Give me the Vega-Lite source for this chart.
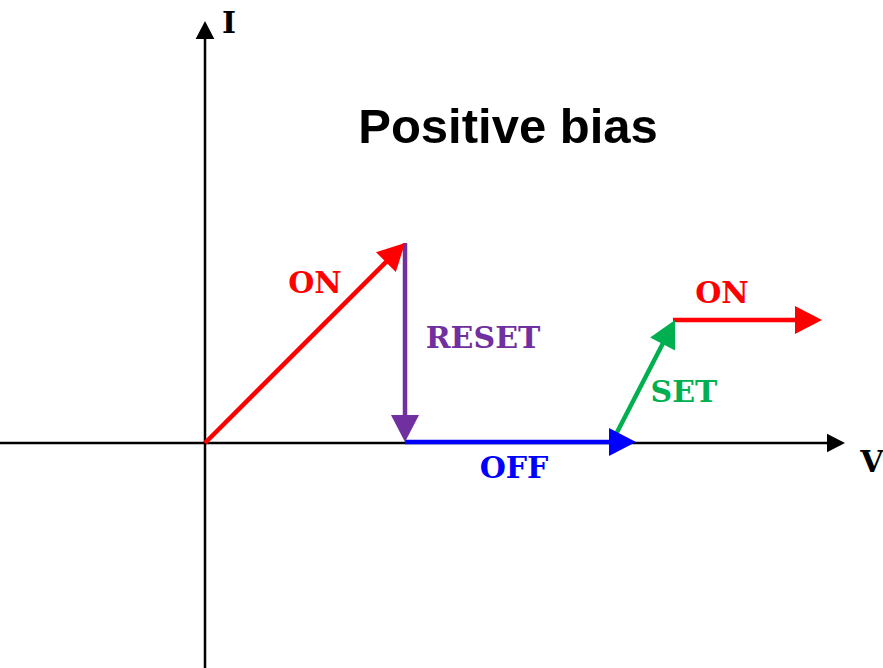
{
  "$schema": "https://vega.github.io/schema/vega-lite/v6.json",
  "width": 883,
  "height": 668,
  "autosize": {"type": "none"},
  "padding": 0,
  "background": "white",
  "config": {"view": {"stroke": null}},
  "datasets": {
    "segments": [
      {"state": "axis", "x": -20.5, "y": 0, "x2": 64.0, "y2": 0},
      {"state": "axis", "x": 0, "y": -22.5, "x2": 0, "y2": 42.2},
      {"state": "ON", "x": 0, "y": 0, "x2": 20.0, "y2": 20.0},
      {"state": "RESET", "x": 20.0, "y": 20.0, "x2": 20.0, "y2": 0.1},
      {"state": "OFF", "x": 20.0, "y": 0.1, "x2": 43.1, "y2": 0.1},
      {"state": "SET", "x": 40.7, "y": 0.1, "x2": 47.0, "y2": 12.3},
      {"state": "ON", "x": 46.8, "y": 12.3, "x2": 61.7, "y2": 12.3}
    ],
    "labels": [
      {"state": "axis", "text": "I", "x": 2.4, "y": 41.0},
      {"state": "axis", "text": "V", "x": 66.7, "y": -2.9},
      {"state": "ON", "text": "ON", "x": 11.0, "y": 15.0},
      {"state": "RESET", "text": "RESET", "x": 27.8, "y": 9.5},
      {"state": "OFF", "text": "OFF", "x": 30.9, "y": -3.5},
      {"state": "SET", "text": "SET", "x": 47.9, "y": 4.1},
      {"state": "ON", "text": "ON", "x": 51.7, "y": 14.0}
    ],
    "title": [
      {"state": "axis", "text": "Positive bias", "x": 30.3, "y": 30.0}
    ]
  },
  "encoding": {
    "color": {
      "field": "state",
      "type": "nominal",
      "legend": null,
      "scale": {
        "domain": ["axis", "ON", "RESET", "OFF", "SET"],
        "range": ["#000000", "#FF0000", "#7030A0", "#0000FF", "#00B050"]
      }
    }
  },
  "layer": [
    {
      "data": {"name": "segments"},
      "transform": [
        {"calculate": "datum.x2 - datum.x", "as": "dx"},
        {"calculate": "datum.y2 - datum.y", "as": "dy"},
        {"calculate": "sqrt(datum.dx * datum.dx + datum.dy * datum.dy)", "as": "len"},
        {"calculate": "atan2(-datum.dy, datum.dx) * 180 / PI", "as": "angle"},
        {"calculate": "datum.state === 'axis' ? 1.0 : 1.5", "as": "trim"},
        {"calculate": "datum.x2 - datum.trim * datum.dx / datum.len", "as": "xe"},
        {"calculate": "datum.y2 - datum.trim * datum.dy / datum.len", "as": "ye"}
      ],
      "layer": [
        {
          "transform": [{"filter": "datum.state === 'axis'"}],
          "mark": {"type": "rule", "strokeWidth": 2.5, "strokeCap": "butt"},
          "encoding": {
            "x": {"field": "x", "type": "quantitative", "scale": {"domain": [-20.5, 67.8], "nice": false, "zero": false}, "axis": null},
            "y": {"field": "y", "type": "quantitative", "scale": {"domain": [-22.5, 44.3], "nice": false, "zero": false}, "axis": null},
            "x2": {"field": "xe"},
            "y2": {"field": "ye"}
          }
        },
        {
          "transform": [{"filter": "datum.state !== 'axis'"}],
          "mark": {"type": "rule", "strokeWidth": 4.5, "strokeCap": "butt"},
          "encoding": {
            "x": {"field": "x", "type": "quantitative"},
            "y": {"field": "y", "type": "quantitative"},
            "x2": {"field": "xe"},
            "y2": {"field": "ye"}
          }
        },
        {
          "transform": [{"filter": "datum.state === 'axis'"}],
          "mark": {"type": "point", "shape": "M0,0L-1,-0.52L-1,0.52Z", "filled": true, "opacity": 1, "size": 1296, "strokeWidth": 0},
          "encoding": {
            "x": {"field": "x2", "type": "quantitative"},
            "y": {"field": "y2", "type": "quantitative"},
            "angle": {"field": "angle", "type": "quantitative", "scale": null}
          }
        },
        {
          "transform": [{"filter": "datum.state !== 'axis'"}],
          "mark": {"type": "point", "shape": "M0,0L-1,-0.52L-1,0.52Z", "filled": true, "opacity": 1, "size": 2916, "strokeWidth": 0},
          "encoding": {
            "x": {"field": "x2", "type": "quantitative"},
            "y": {"field": "y2", "type": "quantitative"},
            "angle": {"field": "angle", "type": "quantitative", "scale": null}
          }
        }
      ]
    },
    {
      "data": {"name": "labels"},
      "mark": {"type": "text", "font": "DejaVu Serif", "fontWeight": "bold", "fontSize": 30, "align": "center", "baseline": "alphabetic"},
      "encoding": {
        "x": {"field": "x", "type": "quantitative"},
        "y": {"field": "y", "type": "quantitative"},
        "text": {"field": "text"}
      }
    },
    {
      "data": {"name": "title"},
      "mark": {"type": "text", "font": "Liberation Sans", "fontWeight": "bold", "fontSize": 49, "align": "center", "baseline": "alphabetic"},
      "encoding": {
        "x": {"field": "x", "type": "quantitative"},
        "y": {"field": "y", "type": "quantitative"},
        "text": {"field": "text"}
      }
    }
  ]
}
